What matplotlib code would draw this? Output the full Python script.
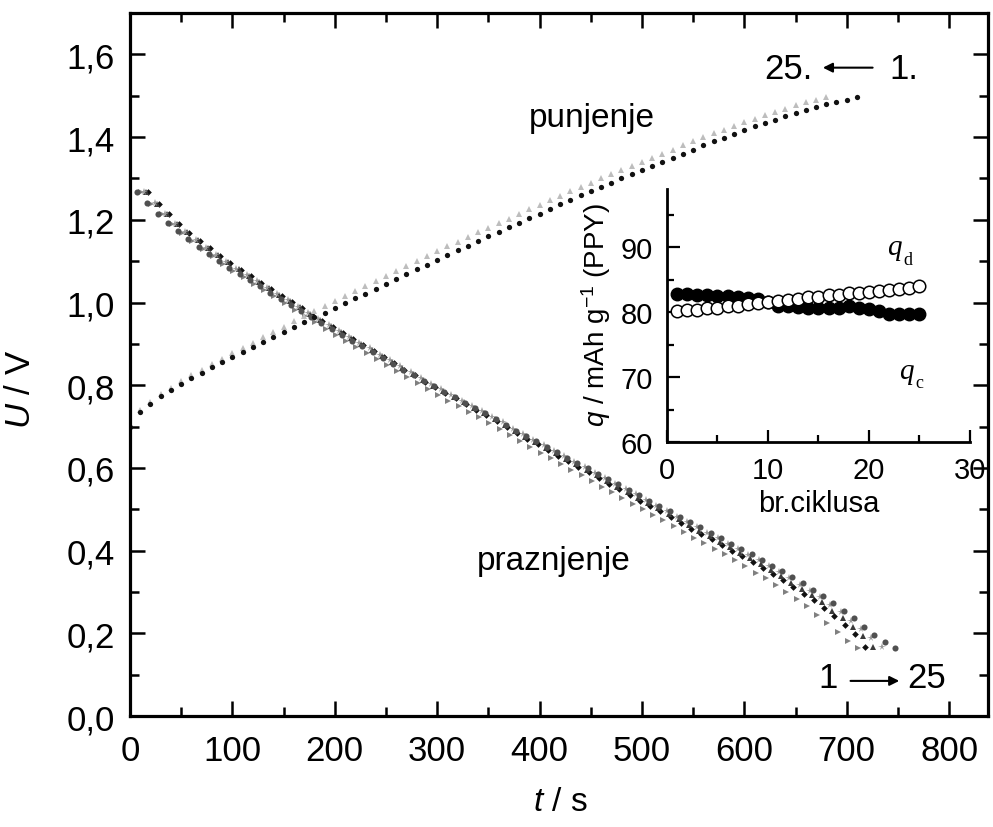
import numpy as np
import matplotlib
matplotlib.use("Agg")
from matplotlib import pyplot as plt
from matplotlib.ticker import MultipleLocator, FuncFormatter

plt.rcParams["font.family"] = ["Liberation Sans", "DejaVu Sans"]
plt.rcParams["mathtext.fontset"] = "custom"
plt.rcParams["mathtext.rm"] = "Liberation Sans"
plt.rcParams["mathtext.it"] = "Liberation Sans:italic"

# Charging curves (punjenje), sampled every 10 s
charge_c1_t0 = 0
charge_c1 = [0.700, 0.735, 0.755, 0.773, 0.788, 0.803, 0.817, 0.830, 0.843, 0.856,
             0.868, 0.880, 0.892, 0.904, 0.916, 0.928, 0.940, 0.952, 0.964, 0.975,
             0.986, 0.998, 1.010, 1.021, 1.033, 1.044, 1.056, 1.068, 1.080, 1.091,
             1.103, 1.114, 1.126, 1.137, 1.148, 1.160, 1.171, 1.182, 1.193, 1.204,
             1.215, 1.227, 1.238, 1.249, 1.260, 1.270, 1.280, 1.290, 1.300, 1.310,
             1.320, 1.330, 1.340, 1.350, 1.360, 1.370, 1.380, 1.390, 1.399, 1.408,
             1.417, 1.426, 1.434, 1.442, 1.450, 1.458, 1.465, 1.472, 1.479, 1.485,
             1.491, 1.497]
charge_c25_t0 = 0
charge_c25 = [0.705, 0.740, 0.760, 0.778, 0.794, 0.810, 0.824, 0.838, 0.851, 0.864,
              0.877, 0.890, 0.903, 0.916, 0.929, 0.942, 0.955, 0.968, 0.980, 0.992,
              1.004, 1.016, 1.028, 1.040, 1.052, 1.064, 1.076, 1.088, 1.100, 1.112,
              1.124, 1.136, 1.147, 1.158, 1.170, 1.181, 1.192, 1.203, 1.214, 1.225,
              1.236, 1.247, 1.258, 1.269, 1.280, 1.290, 1.300, 1.310, 1.320, 1.330,
              1.340, 1.350, 1.360, 1.370, 1.380, 1.390, 1.400, 1.409, 1.418, 1.427,
              1.436, 1.445, 1.453, 1.461, 1.469, 1.477, 1.484, 1.491, 1.498]

# Discharging curves (praznjenje), sampled every 10 s
dis_c1_t0 = 7
dis_c1 = [1.268, 1.240, 1.215, 1.192, 1.172, 1.153, 1.135, 1.117, 1.100, 1.084,
          1.069, 1.054, 1.039, 1.024, 1.009, 0.994, 0.979, 0.964, 0.950, 0.936,
          0.922, 0.908, 0.894, 0.880, 0.866, 0.852, 0.838, 0.824, 0.810, 0.797,
          0.784, 0.771, 0.758, 0.745, 0.732, 0.718, 0.704, 0.690, 0.677, 0.664,
          0.651, 0.638, 0.625, 0.612, 0.599, 0.586, 0.573, 0.560, 0.547, 0.534,
          0.521, 0.508, 0.495, 0.482, 0.469, 0.456, 0.443, 0.430, 0.417, 0.404,
          0.391, 0.378, 0.364, 0.350, 0.336, 0.321, 0.306, 0.290, 0.273, 0.255,
          0.236, 0.216, 0.195, 0.178, 0.164]
dis_c7_t0 = 14
dis_c7 = [1.268, 1.240, 1.214, 1.191, 1.171, 1.152, 1.133, 1.115, 1.098, 1.082,
          1.066, 1.051, 1.036, 1.021, 1.005, 0.990, 0.975, 0.960, 0.946, 0.931,
          0.917, 0.903, 0.889, 0.874, 0.860, 0.846, 0.832, 0.817, 0.803, 0.790,
          0.777, 0.763, 0.750, 0.737, 0.724, 0.710, 0.695, 0.681, 0.668, 0.655,
          0.641, 0.628, 0.615, 0.602, 0.588, 0.575, 0.562, 0.549, 0.536, 0.522,
          0.509, 0.496, 0.482, 0.469, 0.456, 0.443, 0.430, 0.417, 0.403, 0.390,
          0.377, 0.363, 0.349, 0.333, 0.318, 0.303, 0.287, 0.269, 0.251, 0.230,
          0.210, 0.189, 0.166]
dis_c13_t0 = 16
dis_c13 = [1.268, 1.239, 1.214, 1.190, 1.170, 1.151, 1.132, 1.114, 1.097, 1.080,
           1.065, 1.049, 1.034, 1.019, 1.003, 0.988, 0.973, 0.957, 0.943, 0.928,
           0.914, 0.900, 0.885, 0.871, 0.857, 0.842, 0.828, 0.813, 0.799, 0.786,
           0.772, 0.759, 0.746, 0.732, 0.719, 0.704, 0.690, 0.676, 0.662, 0.649,
           0.635, 0.622, 0.609, 0.595, 0.582, 0.569, 0.555, 0.542, 0.528, 0.515,
           0.502, 0.488, 0.476, 0.461, 0.448, 0.435, 0.421, 0.408, 0.395, 0.382,
           0.367, 0.353, 0.339, 0.322, 0.307, 0.292, 0.275, 0.255, 0.236, 0.216,
           0.193, 0.166]
dis_c19_t0 = 18
dis_c19 = [1.267, 1.239, 1.213, 1.190, 1.169, 1.150, 1.131, 1.113, 1.095, 1.079,
           1.063, 1.048, 1.032, 1.017, 1.001, 0.986, 0.970, 0.955, 0.940, 0.926,
           0.911, 0.897, 0.882, 0.868, 0.853, 0.838, 0.824, 0.809, 0.795, 0.781,
           0.768, 0.754, 0.741, 0.727, 0.714, 0.699, 0.685, 0.670, 0.657, 0.643,
           0.630, 0.616, 0.603, 0.589, 0.576, 0.562, 0.548, 0.535, 0.521, 0.508,
           0.495, 0.481, 0.468, 0.453, 0.440, 0.427, 0.413, 0.400, 0.386, 0.372,
           0.358, 0.343, 0.329, 0.312, 0.296, 0.280, 0.261, 0.242, 0.220, 0.199,
           0.166]
dis_c25_t0 = 11
dis_c25 = [1.267, 1.239, 1.213, 1.189, 1.169, 1.149, 1.130, 1.112, 1.094, 1.077,
           1.062, 1.046, 1.030, 1.015, 0.999, 0.983, 0.967, 0.952, 0.937, 0.922,
           0.908, 0.893, 0.878, 0.864, 0.849, 0.834, 0.820, 0.805, 0.790, 0.777,
           0.763, 0.749, 0.736, 0.722, 0.708, 0.694, 0.679, 0.664, 0.651, 0.637,
           0.623, 0.610, 0.596, 0.582, 0.569, 0.555, 0.541, 0.528, 0.514, 0.500,
           0.486, 0.473, 0.459, 0.446, 0.431, 0.418, 0.404, 0.391, 0.377, 0.363,
           0.347, 0.333, 0.316, 0.301, 0.283, 0.266, 0.245, 0.226, 0.203, 0.182,
           0.164]

# Inset: capacity vs. cycle number
cycles = list(range(1, 26))
q_c = [82.8, 82.8, 82.7, 82.6, 82.5, 82.5, 82.4, 82.2, 82.0, 81.6,
       81.0, 80.9, 80.8, 80.7, 80.7, 80.6, 80.6, 80.9, 80.7, 80.5,
       80.2, 79.7, 79.7, 79.7, 79.7]
q_d = [80.2, 80.3, 80.4, 80.6, 80.7, 80.9, 81.0, 81.2, 81.4, 81.5,
       81.7, 81.9, 82.1, 82.3, 82.4, 82.6, 82.7, 82.9, 83.0, 83.1,
       83.3, 83.5, 83.6, 83.8, 84.1]


def times(t0, values):
    return np.arange(t0, t0 + 10 * len(values), 10)


def comma(v, pos):
    return f"{v:.1f}".replace(".", ",")


fig = plt.figure(figsize=(9.93, 8.28), dpi=100)
ax = fig.add_axes([0.1309, 0.134, 0.8641, 0.849])

# discharge, one marker per cycle
discharge = [
    (dis_c25_t0, dis_c25, ">", "#808080", 4.6),
    (dis_c19_t0, dis_c19, "D", "#111111", 3.4),
    (dis_c13_t0, dis_c13, "^", "#3a3a3a", 4.6),
    (dis_c7_t0, dis_c7, "*", "#9a9a9a", 5.5),
    (dis_c1_t0, dis_c1, "o", "#505050", 4.4),
]
for t0, u, marker, color, ms in discharge:
    ax.plot(times(t0, u), u, linestyle="none", marker=marker, color=color,
            markersize=ms, markeredgewidth=0)

ax.plot(times(charge_c25_t0, charge_c25), charge_c25, linestyle="none",
        marker="^", color="#bdbdbd", markersize=4.6, markeredgewidth=0)
ax.plot(times(charge_c1_t0, charge_c1), charge_c1, linestyle="none",
        marker="o", color="#111111", markersize=3.8, markeredgewidth=0)

ax.set_xlim(0, 838)
ax.set_ylim(0, 1.7)
ax.xaxis.set_major_locator(MultipleLocator(100))
ax.xaxis.set_minor_locator(MultipleLocator(50))
ax.yaxis.set_major_locator(MultipleLocator(0.2))
ax.yaxis.set_minor_locator(MultipleLocator(0.1))
ax.yaxis.set_major_formatter(FuncFormatter(comma))
ax.tick_params(which="both", direction="in", top=True, right=True,
               width=1.8, labelsize=25, pad=11)
ax.tick_params(axis="x", which="both", pad=13)
ax.tick_params(which="major", length=11)
ax.tick_params(which="minor", length=6.5)
for s in ax.spines.values():
    s.set_linewidth(2.3)

ax.set_xlabel("$t$ / s", fontsize=24)
ax.set_ylabel("$U$ / V", fontsize=25)
ax.xaxis.set_label_coords(0.502, -0.099)
ax.yaxis.set_label_coords(-0.108, 0.466)

ax.text(451, 1.448, "punjenje", fontsize=24, ha="center", va="center")
ax.text(414, 0.375, "praznjenje", fontsize=24, ha="center", va="center")

# cycle direction arrows
ax.text(643, 1.566, "25.", fontsize=25, ha="center", va="center")
ax.text(756, 1.566, "1.", fontsize=25, ha="center", va="center")
ax.annotate("", xy=(674, 1.568), xytext=(728, 1.568),
            arrowprops=dict(arrowstyle="-|>", color="black", lw=1.5,
                            mutation_scale=14))
ax.text(682, 0.094, "1", fontsize=25, ha="center", va="center")
ax.text(778, 0.094, "25", fontsize=25, ha="center", va="center")
ax.annotate("", xy=(754, 0.085), xytext=(701, 0.085),
            arrowprops=dict(arrowstyle="-|>", color="black", lw=1.5,
                            mutation_scale=14))

# inset
ins = fig.add_axes([0.6717, 0.465, 0.3051, 0.3056])
ins.patch.set_alpha(0)
ins.plot(cycles, q_c, linestyle="none", marker="o", color="black",
         markersize=9)
ins.plot(cycles, q_d, linestyle="none", marker="o", markerfacecolor="white",
         markeredgecolor="black", markeredgewidth=1.1, markersize=9)
ins.set_xlim(0, 30)
ins.set_ylim(60, 99)
ins.xaxis.set_major_locator(MultipleLocator(10))
ins.xaxis.set_minor_locator(MultipleLocator(5))
ins.yaxis.set_major_locator(MultipleLocator(10))
ins.yaxis.set_minor_locator(MultipleLocator(5))
ins.spines["top"].set_visible(False)
ins.spines["right"].set_visible(False)
for s in ("left", "bottom"):
    ins.spines[s].set_linewidth(2.0)
ins.tick_params(which="both", direction="in", width=1.6, labelsize=21, pad=10)
ins.tick_params(which="major", length=9)
ins.tick_params(which="minor", length=5)
ins.set_xlabel("br.ciklusa", fontsize=21)
ins.set_ylabel("$q$ / mAh g$^{-1}$ (PPY)", fontsize=20)
ins.xaxis.set_label_coords(0.5, -0.186)
ins.yaxis.set_label_coords(-0.178, 0.506)

for x, y, sub in ((23.2, 89.0, "d"), (24.4, 69.9, "c")):
    ins.text(x, y, "q", fontsize=21, fontstyle="italic", family="Liberation Serif",
             ha="right", va="baseline")
    ins.text(x + 0.2, y - 1.5, sub, fontsize=13, family="Liberation Serif",
             ha="left", va="baseline")

fig.savefig("out.png", dpi=100)
